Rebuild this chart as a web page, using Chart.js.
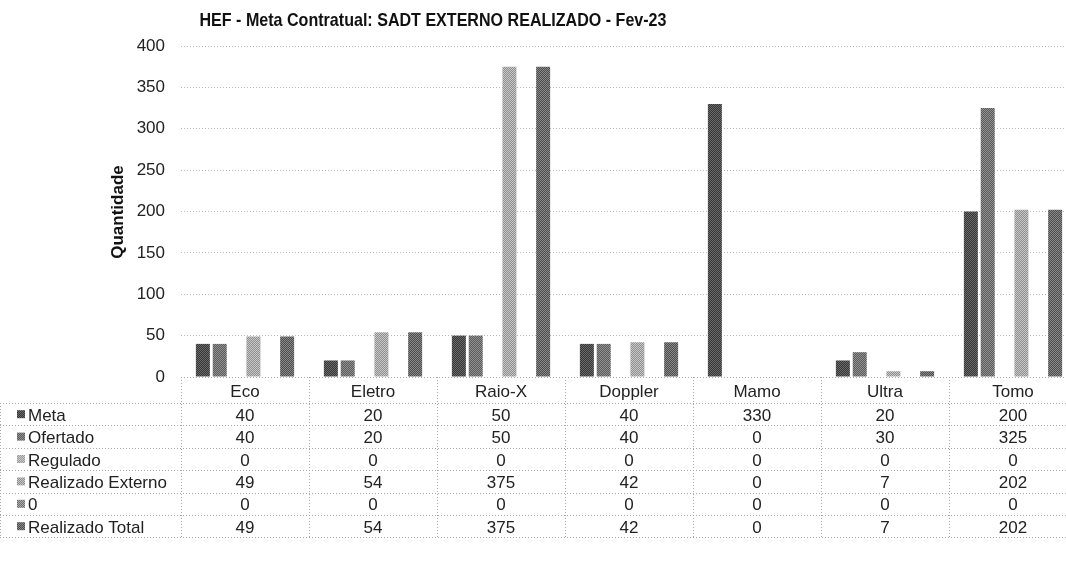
<!DOCTYPE html>
<html>
<head>
<meta charset="utf-8">
<script src="https://cdn.jsdelivr.net/npm/chart.js@4"></script>
<style>
  body { margin: 0; background: #fff; overflow: hidden; }
  #wrap { width: 1066px; height: 573px; overflow: hidden; }
</style>
</head>
<body>
<div id="wrap"><canvas id="myChart" width="1077" height="573"></canvas></div>
<script>
const categories = ['Eco', 'Eletro', 'Raio-X', 'Doppler', 'Mamo', 'Ultra', 'Tomo'];
const seriesNames = ['Meta', 'Ofertado', 'Regulado', 'Realizado Externo', '0', 'Realizado Total'];
const meta = [40, 20, 50, 40, 330, 20, 200];
const ofertado = [40, 20, 50, 40, 0, 30, 325];
const regulado = [0, 0, 0, 0, 0, 0, 0];
const realizadoExterno = [49, 54, 375, 42, 0, 7, 202];
const zero = [0, 0, 0, 0, 0, 0, 0];
const realizadoTotal = [49, 54, 375, 42, 0, 7, 202];
const yTicks = [0, 50, 100, 150, 200, 250, 300, 350, 400];

const FONT = '"Liberation Sans", Arial, sans-serif';
const ctx = document.getElementById('myChart');
const c2d = ctx.getContext('2d');

// small 2x2 dither so the bars look like the printed halftone
function dither(a, b) {
    const cv = document.createElement('canvas');
    cv.width = 2; cv.height = 2;
    const g = cv.getContext('2d');
    g.fillStyle = a; g.fillRect(0, 0, 2, 2);
    g.fillStyle = b; g.fillRect(0, 0, 1, 1); g.fillRect(1, 1, 1, 1);
    return c2d.createPattern(cv, 'repeat');
}

const fills = [
    dither('#363636', '#6a6a6a'),
    dither('#5a5a5a', '#929292'),
    dither('#9a9a9a', '#cccccc'),
    dither('#8e8e8e', '#c8c8c8'),
    dither('#707070', '#aaaaaa'),
    dither('#4c4c4c', '#8a8a8a')
];
const values = [meta, ofertado, regulado, realizadoExterno, zero, realizadoTotal];

const data = {
    labels: categories,
    datasets: seriesNames.map((name, i) => ({
        label: name,
        data: values[i],
        backgroundColor: fills[i],
        borderWidth: 0,
        categoryPercentage: 0.79,
        barPercentage: 0.83
    }))
};

const tablePlugin = {
    id: 'tablePlugin',
    afterDraw(chart) {
        const g = chart.ctx;
        const area = chart.chartArea;
        const x = chart.scales.x;
        const colW = (area.right - area.left) / categories.length;
        const top = area.bottom;
        const headH = 26;
        const rowH = 22.4;
        const bottom = top + headH + rowH * seriesNames.length;
        g.save();

        // title, squeezed a little like the scanned original
        const title = 'HEF - Meta Contratual: SADT EXTERNO REALIZADO - Fev-23';
        g.fillStyle = '#111';
        g.font = 'bold 19px ' + FONT;
        g.textAlign = 'center';
        g.textBaseline = 'middle';
        const tw = g.measureText(title).width;
        g.save();
        g.translate(433, 21);
        g.scale(467 / tw, 1);
        g.fillText(title, 0, 0);
        g.restore();

        // y axis title
        g.save();
        g.translate(118, 212);
        g.rotate(-Math.PI / 2);
        g.font = 'bold 17px ' + FONT;
        g.fillText('Quantidade', 0, 0);
        g.restore();

        // grid of the data table
        g.strokeStyle = '#aaa';
        g.lineWidth = 1;
        g.setLineDash([1, 2]);
        g.beginPath();
        g.moveTo(area.left, top + 0.5); g.lineTo(area.right, top + 0.5);
        for (let r = 0; r <= seriesNames.length; r++) {
            const y = Math.round(top + headH + r * rowH) + 0.5;
            g.moveTo(0, y); g.lineTo(area.right, y);
        }
        for (let c = 0; c <= categories.length; c++) {
            const xx = Math.round(area.left + c * colW) + 0.5;
            g.moveTo(xx, top); g.lineTo(xx, bottom);
        }
        g.moveTo(0.5, top + headH); g.lineTo(0.5, bottom);
        g.stroke();
        g.setLineDash([]);

        g.font = '17px ' + FONT;
        g.fillStyle = '#222';
        categories.forEach((cat, i) => {
            g.fillText(cat, x.getPixelForValue(i), top + 15);
        });
        seriesNames.forEach((name, r) => {
            const cy = top + headH + r * rowH + rowH / 2;
            g.fillStyle = fills[r];
            g.fillRect(17, cy - 4, 8, 8);
            g.fillStyle = '#222';
            g.textAlign = 'left';
            g.fillText(name, 28, cy + 2);
            g.textAlign = 'center';
            values[r].forEach((v, i) => {
                g.fillText(String(v), x.getPixelForValue(i), cy + 2);
            });
        });
        g.restore();
    }
};

const config = {
    type: 'bar',
    data: data,
    options: {
        responsive: false,
        animation: false,
        layout: {
            padding: { top: 46, bottom: 196, left: 0, right: 0 }
        },
        plugins: {
            legend: { display: false },
            title: { display: false },
            tooltip: { enabled: false }
        },
        scales: {
            x: {
                display: false,
                grid: { display: false }
            },
            y: {
                min: 0,
                max: 400,
                afterFit: s => { s.width = 181; },
                afterBuildTicks: s => { s.ticks = yTicks.map(v => ({ value: v })); },
                border: { display: false, dash: [1, 2] },
                grid: {
                    color: '#b8b8b8',
                    drawTicks: false
                },
                ticks: {
                    padding: 16,
                    color: '#222',
                    font: { family: FONT, size: 17 }
                }
            }
        }
    },
    plugins: [tablePlugin]
};

const chart = new Chart(ctx, config);
</script>
</body>
</html>
